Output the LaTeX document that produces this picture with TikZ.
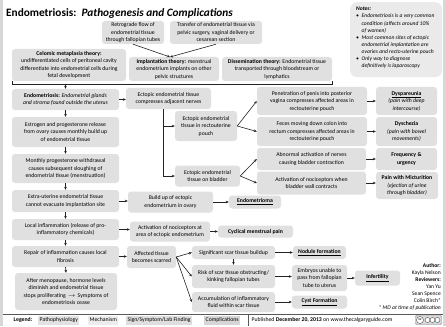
\documentclass[tikz,border=0pt]{standalone}
\usepackage{fontspec}
\setmainfont{Carlito}
\usetikzlibrary{arrows.meta,calc}
\definecolor{boxgray}{RGB}{224,224,224}
\definecolor{notegray}{RGB}{234,234,234}
\definecolor{linegray}{RGB}{35,35,35}
\definecolor{framegray}{RGB}{215,215,215}
\definecolor{legA}{RGB}{226,226,226}
\definecolor{legB}{RGB}{236,236,236}
\definecolor{legC}{RGB}{222,222,222}
\definecolor{legD}{RGB}{214,214,214}
\newcommand{\fs}{\fontsize{5.75}{7.5}\selectfont}

\begin{document}
\begin{tikzpicture}[x=1pt,y=-1pt,
  bx/.style={fill=boxgray, rounded corners=3pt, align=center, inner sep=1pt, font=\fs},
  arr/.style={draw=linegray, line width=0.6pt, -{Stealth[length=3pt,width=2.6pt]}},
  ln/.style={draw=linegray, line width=0.6pt},
  lg/.style={anchor=west, inner sep=1.5pt, font=\fs, minimum height=9pt},
]
\useasboundingbox (0,0) rectangle (446,326);
\fill[white] (0,0) rectangle (446,326);
\fill[framegray] (0,0) rectangle (3,326);
\fill[framegray] (443,0) rectangle (446,326);

% title
\node[anchor=west, inner sep=0pt, font=\fontsize{11.3}{13}\selectfont\bfseries] (title) at (6,13)
  {Endometriosis:\ \ \textit{Pathogenesis and Complications}};

% notes
\node[fill=notegray, rounded corners=7pt, anchor=north west, minimum width=92pt,
  minimum height=75pt, inner sep=0pt] (notes) at (350,2) {};
\node[anchor=north west, align=left, inner sep=0pt,
  font=\fontsize{5.6}{7.1}\selectfont\itshape] (notestext) at (356,7) {%
  \textbf{Notes:}\\
  \makebox[5.5pt][l]{\textbullet}Endometriosis is a very common\\
  \hspace*{5.5pt}condition (affects around 10\%\\
  \hspace*{5.5pt}of women)\\
  \makebox[5.5pt][l]{\textbullet}Most common sites of ectopic\\
  \hspace*{5.5pt}endometrial implantation are\\
  \hspace*{5.5pt}ovaries and recto-uterine pouch\\
  \makebox[5.5pt][l]{\textbullet}Only way to diagnose\\
  \hspace*{5.5pt}definitively is laparoscopy};

% theories
\node[bx, minimum width=62pt, minimum height=23pt] (retro) at (133,32.5)
  {Retrograde flow of\\endometrial tissue\\through fallopian tubes};
\node[bx, minimum width=92pt, minimum height=23pt] (transfer) at (216,32.5)
  {Transfer of endometrial tissue via\\pelvic surgery, vaginal delivery or\\cesarean section};
\node[bx, minimum width=114pt, minimum height=32pt] (celomic) at (69,65)
  {\textbf{Celomic metaplasia theory:}\\undifferentiated cells of peritoneal cavity\\differentiate into endometrial cells during\\fetal development};
\node[bx, minimum width=90pt, minimum height=24pt] (implant) at (174,69)
  {\textbf{Implantation theory:} menstrual\\endometrium implants on other\\pelvic structures};
\node[bx, minimum width=110pt, minimum height=24pt] (dissem) at (277,69)
  {\textbf{Dissemination theory:} Endometrial tissue\\transported through bloodstream or\\lymphatics};

\coordinate (meet) at (170,57);
\draw[arr] (retro.south) -- (meet);
\draw[arr] (transfer.south) -- (meet);

% bracket joining the theories
\coordinate (brL) at (12,84);
\coordinate (brR) at (332,84);
\draw[ln] ($(brL)+(0,-3)$) -- (brL) -- (brR) -- ($(brR)+(0,-3)$);

% main pathway
\node[bx, minimum width=107pt, minimum height=21pt] (endo) at (65.5,99.5)
  {\textbf{Endometriosis:} \textit{Endometrial glands}\\\textit{and stroma found outside the uterus}};
\node[bx, minimum width=107pt, minimum height=30pt] (estrogen) at (65.5,132)
  {Estrogen and progesterone release\\from ovary causes monthly build up\\of endometrial tissue};
\node[bx, minimum width=107pt, minimum height=29pt] (monthly) at (65.5,168.5)
  {Monthly progesterone withdrawal\\causes subsequent sloughing of\\endometrial tissue (menstruation)};
\node[bx, minimum width=107pt, minimum height=22pt] (extra) at (65.5,201)
  {Extra-uterine endometrial tissue\\cannot evacuate implantation site};
\node[bx, minimum width=107pt, minimum height=21pt] (local) at (65.5,229.5)
  {Local inflammation (release of pro-\\inflammatory chemicals)};
\node[bx, minimum width=107pt, minimum height=21pt] (repair) at (65.5,256.5)
  {Repair of inflammation causes local\\fibrosis};
\node[bx, minimum width=102pt, minimum height=37pt] (meno) at (66,291.5)
  {After menopause, hormone levels\\diminish and endometrial tissue\\stops proliferating \,$\rightarrow$\, Symptoms of\\endometriosis cease};

\draw[arr] (brL -| endo.north) -- (endo.north);
\draw[arr] (endo.south) -- (estrogen.north);
\draw[arr] (estrogen.south) -- (monthly.north);
\draw[arr] (monthly.south) -- (extra.north);
\draw[arr] (extra.south) -- (local.north);
\draw[arr] (local.south) -- (repair.north);
\draw[arr] (repair.south) -- (meno.north);

% nerve compression branch
\node[bx, minimum width=85pt, minimum height=21pt] (compress) at (168.5,98.5)
  {Ectopic endometrial tissue\\compresses adjacent nerves};
\node[bx, minimum width=62pt, minimum height=30pt] (recto) at (206,126)
  {Ectopic endometrial\\tissue in rectouterine\\pouch};
\node[bx, minimum width=65pt, minimum height=21pt] (bladder) at (207.5,176)
  {Ectopic endometrial\\tissue on bladder};
\node[bx, minimum width=110pt, minimum height=28pt] (penet) at (312,101)
  {Penetration of penis into posterior\\vagina compresses affected areas in\\rectouterine pouch};
\node[bx, minimum width=110pt, minimum height=29pt] (feces) at (312,131.5)
  {Feces moving down colon into\\rectum compresses affected areas in\\rectouterine pouch};
\node[bx, minimum width=109pt, minimum height=22pt] (abnorm) at (311.5,159)
  {Abnormal activation of nerves\\causing bladder contraction};
\node[bx, minimum width=109pt, minimum height=23pt] (activ) at (311.5,183)
  {Activation of nociceptors when\\bladder wall contracts};
\node[bx, minimum width=61pt, minimum height=28pt] (dysp) at (406.5,101)
  {\textbf{\underline{Dyspareunia}}\\\textit{(pain with deep}\\\textit{intercourse)}};
\node[bx, minimum width=61pt, minimum height=29pt] (dysch) at (406.5,131.5)
  {\textbf{Dyschezia}\\\textit{(pain with bowel}\\\textit{movements)}};
\node[bx, minimum width=61pt, minimum height=22pt] (freq) at (406.5,159)
  {\textbf{Frequency \&}\\\textbf{urgency}};
\node[bx, minimum width=62pt, minimum height=27pt] (mict) at (407,185.5)
  {\textbf{Pain with Micturition}\\\textit{(ejection of urine}\\\textit{through bladder)}};

\draw[arr] (endo.east) -- (endo.east -| compress.west);
\coordinate (trunk) at (163,0);
\draw[ln] (trunk |- compress.south) -- (trunk |- bladder.west);
\draw[arr] (trunk |- recto.west) -- (recto.west);
\draw[arr] (trunk |- bladder.west) -- (bladder.west);
\draw[arr] (recto.east) -- (penet.west);
\draw[arr] (recto.east) -- (feces.west);
\draw[arr] (bladder.east) -- (abnorm.west);
\draw[arr] (bladder.east) -- (activ.west);
\draw[arr] (penet.east) -- (penet.east -| dysp.west);
\draw[arr] (feces.east) -- (feces.east -| dysch.west);
\draw[arr] (abnorm.east) -- (abnorm.east -| freq.west);
\draw[arr] (activ.east) -- (activ.east -| mict.west);

% ovary, pain and scarring branches
\node[bx, minimum width=85pt, minimum height=21pt] (buildup) at (170.5,202)
  {Build up of ectopic\\endometrium in ovary};
\node[bx, minimum width=52pt, minimum height=13pt] (endometrioma) at (255,202)
  {\textbf{\underline{Endometrioma}}};
\node[bx, minimum width=80pt, minimum height=20pt] (actnoc) at (170,231.5)
  {Activation of nociceptors at\\area of ectopic endometrium};
\node[bx, minimum width=75pt, minimum height=12pt] (cyclical) at (255.5,231.5)
  {\textbf{Cyclical menstrual pain}};
\node[bx, minimum width=49pt, minimum height=22pt] (affected) at (151.5,257)
  {Affected tissue\\becomes scarred};
\node[bx, minimum width=83pt, minimum height=13pt] (signif) at (233.5,252.5)
  {Significant scar tissue buildup};
\node[bx, minimum width=83pt, minimum height=23pt] (risk) at (233.5,276.5)
  {Risk of scar tissue obstructing/\\kinking fallopian tubes};
\node[bx, minimum width=83pt, minimum height=20pt] (accum) at (233.5,302)
  {Accumulation of inflammatory\\fluid within scar tissue};
\node[bx, minimum width=53pt, minimum height=13pt] (nodule) at (319.5,252.5)
  {\textbf{\underline{Nodule formation}}};
\node[bx, minimum width=55pt, minimum height=26pt] (embryos) at (319.5,278)
  {Embryos unable to\\pass from fallopian\\tube to uterus};
\node[bx, minimum width=45pt, minimum height=15pt] (infert) at (377.5,278)
  {\textbf{\underline{Infertility}}};
\node[bx, minimum width=55pt, minimum height=13pt] (cyst) at (319.5,302)
  {\textbf{\underline{Cyst Formation}}};

\draw[arr] (extra.east) -- (extra.east -| buildup.west);
\draw[arr] (buildup.east) -- (endometrioma.west);
\draw[arr] (local.east) -- (local.east -| actnoc.west);
\draw[arr] (actnoc.east) -- (cyclical.west);
\draw[arr] (repair.east) -- (repair.east -| affected.west);
\draw[arr] (affected.east) -- (signif.west);
\draw[arr] (affected.east) -- (risk.west);
\draw[arr] (affected.east) -- (accum.west);
\draw[arr] (signif.south) -- (risk.north);
\draw[arr] (signif.east) -- (nodule.west);
\draw[arr] (risk.east) -- (risk.east -| embryos.west);
\draw[arr] (embryos.east) -- (infert.west);
\draw[arr] (accum.east) -- (accum.east -| cyst.west);

% credits
\node[anchor=north east, align=right, inner sep=0pt, font=\fontsize{5.6}{7}\selectfont] (credits) at (441,263)
  {\textbf{Author:}\\Kayla Nelson\\\textbf{Reviewers:}\\Yan Yu\\Sean Spence\\Colin Birch*\\\textit{* MD at time of publication}};

% legend strip
\draw[draw=black!65, line width=0.8pt] (3,314) -- (443,314);
\node[lg] (legtitle) at (12,320) {\textbf{Legend:}};
\node[lg, fill=legA] (lgA) at (38,320) {Pathophysiology};
\node[lg, fill=legB] (lgB) at (88,320) {Mechanism};
\node[lg, fill=legC] (lgC) at (126,320) {Sign/Symptom/Lab Finding};
\node[lg, fill=legD] (lgD) at (204,320) {Complications};
\draw[draw=black!65, line width=0.6pt] (248,314) -- (248,326);
\node[lg] (pub) at (250,320) {Published \textbf{December 20, 2013} on www.thecalgaryguide.com};

% licence badge
\node[draw=black!50, fill=black!15, rounded corners=1pt, minimum width=26pt, minimum height=9pt,
  inner sep=0pt] (cc) at (428.5,320) {};
\node[circle, draw=black!70, fill=white, inner sep=0pt, minimum size=7pt,
  font=\fontsize{3.5}{4}\selectfont\bfseries] (ccA) at (420,320) {cc};
\node[circle, draw=black!70, fill=white, inner sep=0pt, minimum size=5pt] (ccB) at (427.5,320) {};
\node[circle, draw=black!70, fill=white, inner sep=0pt, minimum size=5pt] (ccC) at (432.5,320) {};
\node[circle, draw=black!70, fill=white, inner sep=0pt, minimum size=5pt] (ccD) at (437.5,320) {};
\end{tikzpicture}
\end{document}
